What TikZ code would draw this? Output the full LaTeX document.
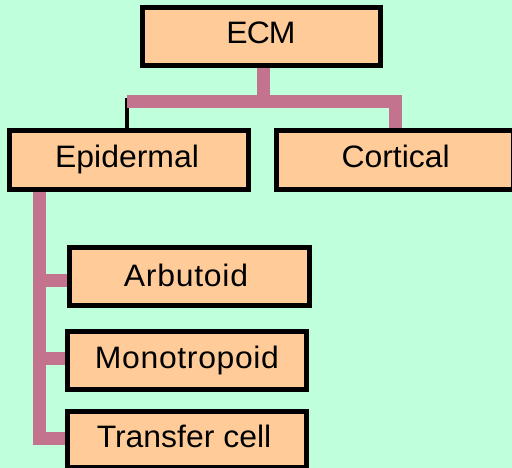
\documentclass[tikz,border=0pt]{standalone}
\usepackage{fontspec}
\setmainfont[FakeStretch=1.03]{Liberation Sans}
\usetikzlibrary{backgrounds}
\definecolor{bgc}{HTML}{BFFFDB}
\definecolor{peach}{HTML}{FFCC99}
\definecolor{pinkc}{HTML}{C3738E}
\pgfdeclarelayer{bottom}
\pgfsetlayers{bottom,background,main}
\newcommand{\lsp}[1]{\addfontfeature{LetterSpace=#1}}
\begin{document}
\begin{tikzpicture}[x=1pt,y=-1pt,
  box/.style={draw=black,fill=peach,line width=5pt,rectangle,inner sep=0pt,
    font=\fontsize{31}{37}\selectfont,text height=22.2pt,text depth=8pt},
  conn/.style={draw=pinkc,line width=13pt},
  thinline/.style={draw=black,line width=4pt}]
\begin{pgfonlayer}{bottom}
\fill[bgc] (0,0) rectangle (512,468);
\end{pgfonlayer}
\useasboundingbox (0,0) rectangle (512,468);
% nodes
\node[box,minimum width=238pt,minimum height=58pt] (ecm) at (261.5,36.5) {\lsp{-3}ECM\hspace*{1pt}};
\node[box,minimum width=239pt,minimum height=59pt] (epi) at (128.5,160) {Epidermal\hspace*{3pt}};
\node[box,minimum width=237pt,minimum height=59pt] (cor) at (395,160) {\makebox[230pt][l]{\hspace*{61.5pt}Cortical}};
\node[box,minimum width=240pt,minimum height=58pt,text depth=3pt] (arb) at (189.5,276.5) {\lsp{2.4}Arbutoid\hspace*{7pt}};
\node[box,minimum width=239pt,minimum height=58pt,text depth=6pt] (mon) at (187,360.5) {\lsp{2.1}Monotropoid};
\node[box,minimum width=239pt,minimum height=56pt,text depth=6pt] (tra) at (187,439.5) {Transfer cell\hspace*{6pt}};
% connectors
\coordinate (barL) at (127,101.5);
\coordinate (tick) at (126.5,98);
\coordinate (stem) at (39.5,192);
\coordinate (brA) at (39.5,280);
\coordinate (brM) at (39.5,358.5);
\begin{scope}[on background layer]
\draw[thinline] (tick) -- (tick |- epi.north);
\draw[conn] ([xshift=2pt]ecm.south) -- ([xshift=2pt]ecm.south |- barL);
\draw[conn] (barL) -| ([xshift=0.5pt,yshift=-3.5pt]cor.north);
\draw[conn] (stem) |- ([yshift=1pt]tra.west);
\draw[conn] (brA) -- (brA -| arb.west);
\draw[conn] (brM) -- (brM -| mon.west);
\end{scope}
\end{tikzpicture}
\end{document}
